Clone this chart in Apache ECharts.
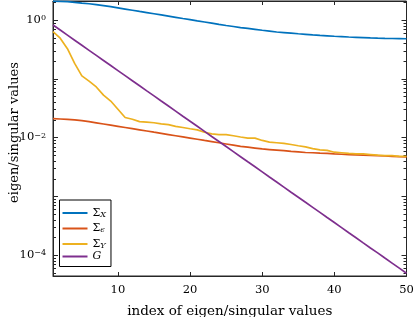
<!DOCTYPE html>
<html><head><meta charset="utf-8">
<script src="https://cdn.jsdelivr.net/npm/echarts@6/dist/echarts.min.js"></script>
<style>html,body{margin:0;padding:0;background:#fff}#c{width:415px;height:317px}</style>
</head><body><div id="c"></div>
<script>
const indices = [1,2,3,4,5,6,7,8,9,10,11,12,13,14,15,16,17,18,19,20,21,22,23,24,25,26,27,28,29,30,31,32,33,34,35,36,37,38,39,40,41,42,43,44,45,46,47,48,49,50];
const sigmaX = [2.089,2.065,2.042,1.995,1.928,1.884,1.820,1.758,1.679,1.603,1.531,1.462,1.396,1.334,1.274,1.216,1.161,1.109,1.059,1.012,0.966,0.923,0.881,0.841,0.804,0.773,0.741,0.716,0.692,0.668,0.646,0.624,0.610,0.596,0.582,0.569,0.556,0.546,0.537,0.528,0.521,0.513,0.507,0.501,0.495,0.490,0.486,0.483,0.481,0.479];
const sigmaEps = [0.0209,0.02065,0.0204,0.01995,0.0193,0.01862,0.01778,0.01698,0.01622,0.01549,0.01479,0.01413,0.01349,0.01288,0.0123,0.01175,0.01122,0.01072,0.01023,0.00977,0.00933,0.00891,0.00851,0.00813,0.00776,0.00741,0.00708,0.00684,0.00661,0.00638,0.00624,0.0061,0.00596,0.00582,0.00569,0.00556,0.0055,0.00543,0.00537,0.00525,0.00519,0.00513,0.00507,0.00501,0.00495,0.0049,0.00484,0.00479,0.00473,0.00468];
const sigmaY = [0.631,0.490,0.324,0.182,0.112,0.0912,0.0724,0.0525,0.0417,0.0302,0.0219,0.0204,0.0186,0.0182,0.0178,0.0170,0.0166,0.0155,0.0148,0.0141,0.0135,0.0123,0.0115,0.0112,0.0112,0.0107,0.0102,0.00977,0.00977,0.00891,0.00832,0.00813,0.00794,0.00759,0.00724,0.00692,0.00646,0.00617,0.00603,0.00562,0.00550,0.00537,0.00525,0.00525,0.00513,0.00501,0.00490,0.00490,0.00479,0.00479];
const G = [0.82,0.6724,0.5514,0.4521,0.3707,0.3040,0.2493,0.2044,0.1676,0.1374,0.1127,0.0924,0.0758,0.0621,0.0510,0.0418,0.0343,0.0281,0.0230,0.0189,0.0155,0.0127,0.0104,0.00855,0.00701,0.00575,0.00471,0.00386,0.00317,0.00260,0.00213,0.00175,0.00143,0.00117,0.000963,0.000790,0.000648,0.000531,0.000435,0.000357,0.000293,0.000240,0.000197,0.000161,0.000132,0.000109,0.0000889,0.0000729,0.0000598,0.0000490];
const seriesNames = ['SigmaX','SigmaEps','SigmaY','G'];
const legendLabels = {SigmaX:'{n|Σ}{s|X}', SigmaEps:'{n|Σ}{s|ϵ}', SigmaY:'{n|Σ}{s|Y}', G:'{i|G}'};
const xTicks = [10,20,30,40,50];
const yLabelExps = [-4,-2,0];
const yTickDecades = [-5,-4,-3,-2,-1,0];
const yMin = 4.4e-5, yMax = 2.1;
const colors = ['#0072BD','#D95319','#EDB120','#7E2F8E'];
const ink = '#262626';
const font = 'DejaVu Serif';

const pair = arr => indices.map((x,k)=>[x,arr[k]]);
const tickData = [];
yTickDecades.forEach(d=>{
  for(let m=1;m<=9;m++){
    const v = m*Math.pow(10,d);
    if(v>=yMin && v<=yMax) tickData.push([1,v,m===1?1:0]);
  }
});

const chart = echarts.init(document.getElementById('c'));
chart.setOption({
  animation:false,
  backgroundColor:'#fff',
  grid:{left:53,right:8.5,top:1,bottom:41,show:true,borderColor:ink,borderWidth:1,backgroundColor:'transparent',outerBoundsMode:'none',containLabel:false},
  legend:{
    data:seriesNames, orient:'vertical', left:59.5, top:200, z:20,
    itemWidth:25, itemHeight:10, itemGap:1.5,
    padding:[4.5,5,4.5,3],
    borderColor:'#000', borderWidth:1, backgroundColor:'#fff',
    icon:'path://M0,4 L25,4 L25,6 L0,6 Z',
    formatter: name => legendLabels[name],
    textStyle:{fontFamily:font, color:'#000', rich:{
      n:{fontFamily:font,fontSize:11,lineHeight:11,verticalAlign:'top',color:'#000'},
      s:{fontFamily:font,fontSize:8,fontStyle:'italic',lineHeight:8,padding:[6,0,0,0],verticalAlign:'bottom',color:'#000'},
      i:{fontFamily:font,fontSize:11,fontStyle:'italic',lineHeight:14,color:'#000'}
    }}
  },
  xAxis:[{
    type:'value', min:1, max:50,
    name:'index of eigen/singular values', nameLocation:'middle', nameGap:28, nameMoveOverlap:false,
    nameTextStyle:{fontFamily:font,fontSize:13.5,color:'#000'},
    axisLine:{lineStyle:{color:ink}},
    axisTick:{inside:true,length:4,lineStyle:{color:ink},customValues:xTicks},
    axisLabel:{fontFamily:font,fontSize:11.5,color:'#000',margin:8,customValues:xTicks},
    splitLine:{show:false}
  },{
    type:'value', min:1, max:50, position:'top',
    axisLine:{lineStyle:{color:ink}},
    axisTick:{inside:true,length:4,lineStyle:{color:ink},customValues:xTicks},
    axisLabel:{show:false},
    splitLine:{show:false}
  }],
  yAxis:{
    type:'log', logBase:10, min:yMin, max:yMax,
    name:'eigen/singular values', nameLocation:'middle', nameGap:32, nameMoveOverlap:false,
    nameTextStyle:{fontFamily:font,fontSize:13,color:'#000',padding:[0,0,0,12]},
    axisLine:{show:true,lineStyle:{color:ink}},
    axisTick:{show:false},
    splitLine:{show:false},
    axisLabel:{
      margin:7, color:'#000',
      formatter: v=>{
        const e = Math.log10(v); const r = Math.round(e);
        if(Math.abs(e-r)>1e-6 || yLabelExps.indexOf(r)<0) return '';
        return '{b|10}{p|'+(r<0?'−'+(-r):r)+'}';
      },
      rich:{
        b:{fontFamily:font,fontSize:11.5,lineHeight:12,verticalAlign:'bottom',color:'#000'},
        p:{fontFamily:font,fontSize:8,lineHeight:8,padding:[0,0,6,0],verticalAlign:'top',color:'#000'}
      }
    }
  },
  series:[
    {name:'SigmaX',type:'line',data:pair(sigmaX),showSymbol:false,lineStyle:{width:1.7,color:colors[0]},itemStyle:{color:colors[0]}},
    {name:'SigmaEps',type:'line',data:pair(sigmaEps),showSymbol:false,lineStyle:{width:1.7,color:colors[1]},itemStyle:{color:colors[1]}},
    {name:'SigmaY',type:'line',data:pair(sigmaY),showSymbol:false,lineStyle:{width:1.7,color:colors[2]},itemStyle:{color:colors[2]}},
    {name:'G',type:'line',data:pair(G),showSymbol:false,lineStyle:{width:1.7,color:colors[3]},itemStyle:{color:colors[3]}},
    {name:'yticks',type:'custom',data:tickData,silent:true,z:1,
     encode:{x:0,y:1},
     renderItem:(params,api)=>{
       const cs = params.coordSys;
       const y = Math.round(api.coord([1,api.value(1)])[1])+0.5;
       const len = api.value(2)?5:3;
       const xl = cs.x, xr = cs.x+cs.width;
       return {type:'group',children:[
         {type:'line',shape:{x1:xl,y1:y,x2:xl+len,y2:y},style:{stroke:ink,lineWidth:1}},
         {type:'line',shape:{x1:xr,y1:y,x2:xr-len,y2:y},style:{stroke:ink,lineWidth:1}}
       ]};
     }}
  ]
});
</script></body></html>
